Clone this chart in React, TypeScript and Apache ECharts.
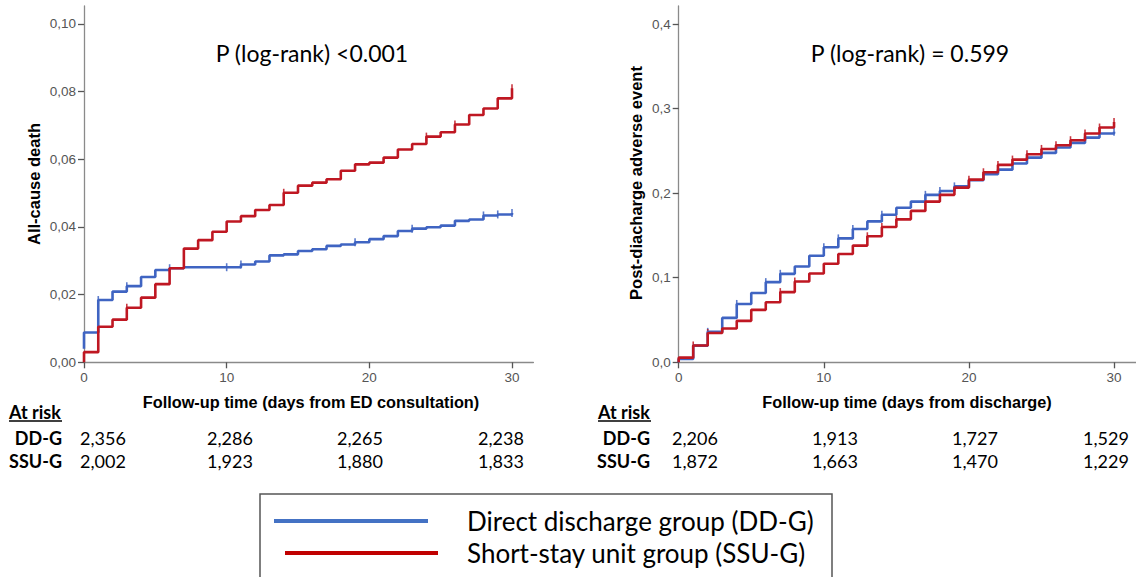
import React, { useEffect, useRef } from "react";
import * as echarts from "echarts";

// ---- data ----
const days = [0, 1, 2, 3, 4, 5, 6, 7, 8, 9, 10, 11, 12, 13, 14, 15, 16, 17, 18, 19, 20, 21, 22, 23, 24, 25, 26, 27, 28, 29, 30];

// Left panel: all-cause death (cumulative incidence), value held from day i to day i+1
const deathDDGStart = 0.004;
const deathDDG = [0.0088, 0.0184, 0.0209, 0.0225, 0.0252, 0.0273, 0.0278, 0.0281, 0.0281, 0.0281, 0.0281, 0.0289, 0.0298, 0.0316, 0.0319, 0.0329, 0.0334, 0.0344, 0.0348, 0.0355, 0.0364, 0.0373, 0.0388, 0.0395, 0.0399, 0.0404, 0.0418, 0.0422, 0.0434, 0.0437, 0.0441];
const deathSSUGStart = 0;
const deathSSUG = [0.003, 0.0105, 0.0126, 0.0161, 0.0191, 0.0231, 0.0278, 0.0336, 0.0361, 0.0386, 0.0416, 0.0432, 0.045, 0.0465, 0.0501, 0.0522, 0.0531, 0.0541, 0.0566, 0.0585, 0.059, 0.0605, 0.0629, 0.0645, 0.0667, 0.068, 0.0703, 0.0731, 0.075, 0.078, 0.081];
const deathDDGCensor = [1, 3, 6, 10, 11, 19, 23, 28, 29, 30];
const deathSSUGCensor = [3, 14, 24, 26, 30];

// Right panel: post-discharge adverse event
const adverseDDGStart = 0;
const adverseDDG = [0.004, 0.0197, 0.036, 0.0525, 0.069, 0.082, 0.0948, 0.1046, 0.1133, 0.126, 0.136, 0.1465, 0.1576, 0.1666, 0.1745, 0.1828, 0.19, 0.198, 0.2026, 0.208, 0.2152, 0.2223, 0.2278, 0.235, 0.242, 0.2476, 0.254, 0.2594, 0.2657, 0.2705, 0.2725];
const adverseSSUGStart = 0;
const adverseSSUG = [0.0055, 0.0199, 0.0347, 0.04, 0.049, 0.062, 0.071, 0.083, 0.0955, 0.105, 0.1165, 0.128, 0.138, 0.149, 0.16, 0.169, 0.179, 0.19, 0.198, 0.2065, 0.216, 0.2247, 0.2334, 0.2397, 0.246, 0.2523, 0.2567, 0.2626, 0.2705, 0.2776, 0.284];
const adverseDDGCensor = [2, 4, 6, 7, 10, 11, 12, 14, 17, 18, 19, 30];
const adverseSSUGCensor = [1, 2, 3, 7, 8, 13, 14, 15, 20, 21, 22, 23, 24, 25, 26, 27, 28, 29, 30];

// Axes ticks
const xTicks = [0, 10, 20, 30];
const deathTicks = [0, 0.02, 0.04, 0.06, 0.08, 0.1];
const adverseTicks = [0, 0.1, 0.2, 0.3, 0.4];

// Texts
const leftPValue = "P (log-rank) <0.001";
const rightPValue = "P (log-rank) = 0.599";
const leftYTitle = "All-cause death";
const rightYTitle = "Post-diacharge adverse event";
const leftXTitle = "Follow-up time (days from ED consultation)";
const rightXTitle = "Follow-up time (days from discharge)";
const riskTitle = "At risk";
const groupShort = ["DD-G", "SSU-G"];
const groupNames = ["Direct discharge group (DD-G)", "Short-stay unit group (SSU-G)"];
const riskDeathDDG = ["2,356", "2,286", "2,265", "2,238"];
const riskDeathSSUG = ["2,002", "1,923", "1,880", "1,833"];
const riskAdverseDDG = ["2,206", "1,913", "1,727", "1,529"];
const riskAdverseSSUG = ["1,872", "1,663", "1,470", "1,229"];

// ---- styles ----
const BLUE = "#3f64c2";
const RED = "#bf1722";
const LEG_BLUE = "#4472c4";
const LEG_RED = "#c00000";
const AXIS = "#8a8a8a";
const LABEL = "#555555";
const CAL = "Lato, 'Open Sans', sans-serif";
const ARIAL = "'Liberation Sans', Arial, sans-serif";

function stepData(start: number, vals: number[]) {
  return [[0, start], ...days.map((d, i) => [d, vals[i]])];
}
function censorData(idx: number[], vals: number[]) {
  return idx.map((d) => [d, vals[d]]);
}

export default function App() {
  const ref = useRef<HTMLDivElement>(null);
  useEffect(() => {
    if (!ref.current) return;
    const chart = echarts.init(ref.current, undefined, { renderer: "svg" });

    const xAxisBase = (gridIndex: number) => ({
      type: "value",
      gridIndex,
      min: 0,
      max: 31.5,
      axisLine: { show: true, lineStyle: { color: AXIS, width: 1.3 } },
      axisTick: { show: true, customValues: xTicks, length: 6, lineStyle: { color: "#555", width: 1.3 } },
      axisLabel: { customValues: xTicks, color: LABEL, fontSize: 13.5, fontFamily: ARIAL, margin: 8 },
      splitLine: { show: false },
    });
    const yAxisBase = (gridIndex: number, max: number, ticks: number[], digits: number) => ({
      type: "value",
      gridIndex,
      min: 0,
      max,
      axisLine: { show: true, lineStyle: { color: AXIS, width: 1.3 } },
      axisTick: { show: true, customValues: ticks, length: 6, lineStyle: { color: "#555", width: 1.3 } },
      axisLabel: {
        customValues: ticks,
        color: LABEL,
        fontSize: 13.5,
        fontFamily: ARIAL,
        margin: 8,
        formatter: (v: number) => v.toFixed(digits).replace(".", ","),
      },
      splitLine: { show: false },
    });

    const lineSeries = (name: string, xi: number, data: number[][], color: string) => ({
      type: "line",
      name,
      xAxisIndex: xi,
      yAxisIndex: xi,
      step: "end",
      data,
      showSymbol: false,
      symbol: "none",
      lineStyle: { color, width: 2.6 },
      silent: true,
    });
    const censorSeries = (xi: number, data: number[][], color: string) => ({
      type: "scatter",
      xAxisIndex: xi,
      yAxisIndex: xi,
      data,
      symbol: "rect",
      symbolSize: [1.6, 8],
      itemStyle: { color, opacity: 0.85 },
      silent: true,
    });

    const txt = (
      text: string,
      x: number,
      y: number,
      font: string,
      size: number,
      weight: string,
      align: string,
      color = "#000",
      rotation = 0
    ) => ({
      type: "text",
      x,
      y,
      rotation,
      silent: true,
      style: {
        text,
        fill: color,
        font: `${weight} ${size}px ${font}`,
        textAlign: align,
        textVerticalAlign: "middle",
      },
    });

    const leftRiskX = [103, 230, 360, 501];
    const rightRiskX = [695, 835, 975, 1106];
    const row1Y = 438;
    const row2Y = 461;

    const graphics: any[] = [
      txt(leftPValue, 312, 53, CAL, 23, "normal", "center"),
      txt(rightPValue, 910, 53, CAL, 23, "normal", "center"),
      txt(leftYTitle, 34, 184, ARIAL, 16.5, "bold", "center", "#000", Math.PI / 2),
      txt(rightYTitle, 636, 183, ARIAL, 16.5, "bold", "center", "#000", Math.PI / 2),
      txt(leftXTitle, 311, 402, ARIAL, 16.3, "bold", "center"),
      txt(rightXTitle, 907, 402, ARIAL, 16.3, "bold", "center"),
      // At risk tables
      txt(riskTitle, 9, 412, CAL, 18, "bold", "left"),
      { type: "line", silent: true, shape: { x1: 9, y1: 421, x2: 62, y2: 421 }, style: { stroke: "#000", lineWidth: 1.3 } },
      txt(riskTitle, 598, 412, CAL, 18, "bold", "left"),
      { type: "line", silent: true, shape: { x1: 598, y1: 421, x2: 651, y2: 421 }, style: { stroke: "#000", lineWidth: 1.3 } },
      txt(groupShort[0], 62, row1Y, CAL, 18, "bold", "right"),
      txt(groupShort[1], 62, row2Y, CAL, 18, "bold", "right"),
      txt(groupShort[0], 650, row1Y, CAL, 18, "bold", "right"),
      txt(groupShort[1], 650, row2Y, CAL, 18, "bold", "right"),
      ...riskDeathDDG.map((t, i) => txt(t, leftRiskX[i], row1Y, CAL, 18, "normal", "center")),
      ...riskDeathSSUG.map((t, i) => txt(t, leftRiskX[i], row2Y, CAL, 18, "normal", "center")),
      ...riskAdverseDDG.map((t, i) => txt(t, rightRiskX[i], row1Y, CAL, 18, "normal", "center")),
      ...riskAdverseSSUG.map((t, i) => txt(t, rightRiskX[i], row2Y, CAL, 18, "normal", "center")),
      // Legend box
      {
        type: "rect",
        silent: true,
        shape: { x: 260, y: 494, width: 572, height: 100 },
        style: { fill: "none", stroke: "#555", lineWidth: 1.5 },
      },
      { type: "line", silent: true, shape: { x1: 274, y1: 521, x2: 428, y2: 521 }, style: { stroke: LEG_BLUE, lineWidth: 4 } },
      { type: "line", silent: true, shape: { x1: 285, y1: 553, x2: 438, y2: 553 }, style: { stroke: LEG_RED, lineWidth: 4 } },
      txt(groupNames[0], 467, 521, CAL, 26, "normal", "left"),
      txt(groupNames[1], 467, 553, CAL, 26, "normal", "left"),
    ];

    const option: any = {
      animation: false,
      backgroundColor: "#ffffff",
      grid: [
        { left: 84, top: 6, width: 449.4, height: 356.3, outerBoundsMode: "none", containLabel: false },
        { left: 678.7, top: 6, width: 457.1, height: 356.3, outerBoundsMode: "none", containLabel: false },
      ],
      xAxis: [xAxisBase(0), xAxisBase(1)],
      yAxis: [yAxisBase(0, 0.1053, deathTicks, 2), yAxisBase(1, 0.4213, adverseTicks, 1)],
      series: [
        lineSeries("DD-G death", 0, stepData(deathDDGStart, deathDDG), BLUE),
        lineSeries("SSU-G death", 0, stepData(deathSSUGStart, deathSSUG), RED),
        censorSeries(0, censorData(deathDDGCensor, deathDDG), BLUE),
        censorSeries(0, censorData(deathSSUGCensor, deathSSUG), RED),
        lineSeries("DD-G adverse", 1, stepData(adverseDDGStart, adverseDDG), BLUE),
        lineSeries("SSU-G adverse", 1, stepData(adverseSSUGStart, adverseSSUG), RED),
        censorSeries(1, censorData(adverseDDGCensor, adverseDDG), BLUE),
        censorSeries(1, censorData(adverseSSUGCensor, adverseSSUG), RED),
      ],
      graphic: graphics,
    };
    chart.setOption(option);
    return () => chart.dispose();
  }, []);

  return (
    <div
      ref={ref}
      style={{ position: "absolute", left: 0, top: 0, width: 1136, height: 577, background: "#fff" }}
    />
  );
}
